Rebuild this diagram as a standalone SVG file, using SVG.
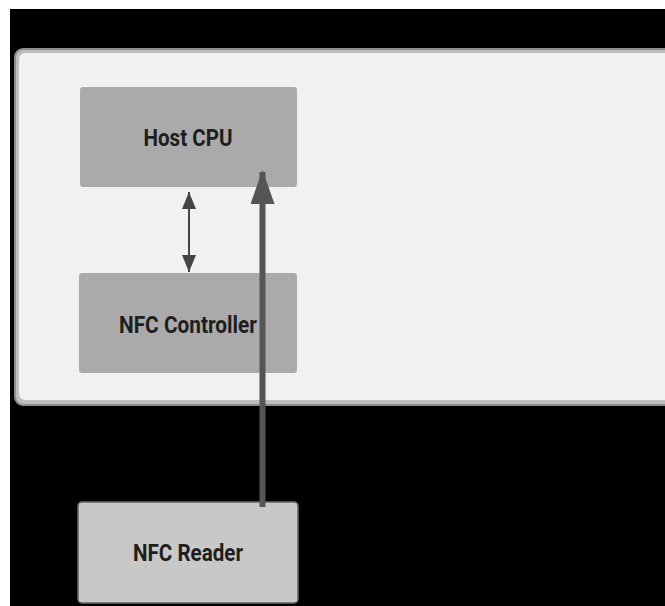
<svg xmlns="http://www.w3.org/2000/svg" width="665" height="606" viewBox="0 0 665 606">
<defs>
<style>
.lbl{font-family:Roboto,"Liberation Sans",sans-serif;font-weight:bold;font-size:23px;fill:#1e1e1e;text-anchor:middle}
.proc{fill:#aaaaaa}
</style>
<marker id="hs" viewBox="0 0 17 14" refX="17" refY="7" markerWidth="17" markerHeight="14" markerUnits="userSpaceOnUse" orient="auto-start-reverse">
<path d="M0,0 L17,7 L0,14 Z" fill="#444"/>
</marker>
<marker id="hb" viewBox="0 0 34 24" refX="32" refY="12" markerWidth="34" markerHeight="24" markerUnits="userSpaceOnUse" orient="auto">
<path d="M0,0 L34,12 L0,24 Z" fill="#555"/>
</marker>
</defs>
<rect x="0" y="0" width="665" height="606" fill="#ffffff"/>
<rect x="10" y="9" width="655" height="597" fill="#000000"/>
<g id="device">
<rect x="15" y="49" width="660" height="356" rx="8" fill="#bdbdbd" stroke="#8c8c8c" stroke-width="2"/>
<rect x="19" y="53" width="660" height="347" rx="6" fill="#f1f1f1"/>
</g>
<g id="host-cpu">
<rect class="proc" x="80" y="87" width="217" height="100" rx="3"/>
<text class="lbl" x="188" y="146" textLength="89" lengthAdjust="spacingAndGlyphs">Host CPU</text>
</g>
<g id="nfc-controller">
<rect class="proc" x="79" y="273" width="218" height="100" rx="3"/>
<text class="lbl" x="188" y="333" textLength="138" lengthAdjust="spacingAndGlyphs">NFC Controller</text>
</g>
<g id="nfc-reader">
<rect x="78" y="502" width="220" height="101" rx="4" fill="#c8c8c8" stroke="#666" stroke-width="1.5"/>
<text class="lbl" x="188" y="561" textLength="110" lengthAdjust="spacingAndGlyphs">NFC Reader</text>
</g>
<g id="connectors">
<line x1="189" y1="192" x2="189" y2="272" stroke="#444" stroke-width="2" marker-start="url(#hs)" marker-end="url(#hs)"/>
<line x1="262.5" y1="507" x2="262.5" y2="172" stroke="#555" stroke-width="6" marker-end="url(#hb)"/>
</g>
</svg>
